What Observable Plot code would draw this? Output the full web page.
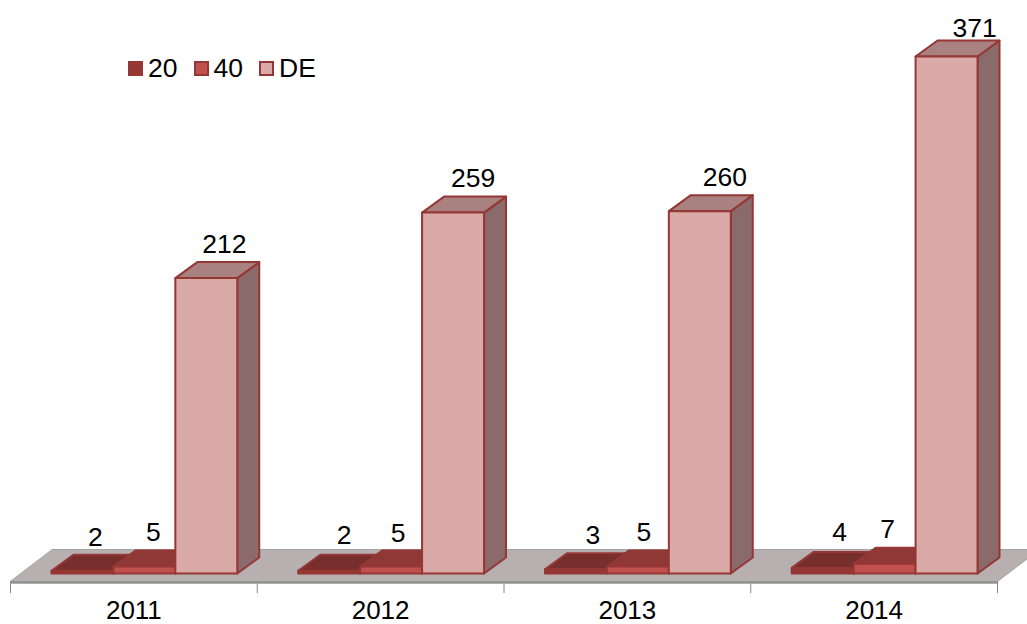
<!DOCTYPE html>
<html><head><meta charset="utf-8">
<script src="https://cdn.jsdelivr.net/npm/d3@7"></script>
<script src="https://cdn.jsdelivr.net/npm/@observablehq/plot@0.6"></script>
<style>
html,body{margin:0;padding:0;background:#fff;overflow:hidden}
#wrap{position:relative;width:1027px;height:624px;font-family:"Liberation Sans",Arial,sans-serif}
#legend{position:absolute;left:128px;top:52px;height:32px;display:flex;align-items:center;font-size:26.5px;color:#000}
#legend i{display:inline-block;box-sizing:border-box;width:15px;height:15px;margin-right:5px}
#legend span{display:inline-flex;align-items:center;margin-right:0}
svg{display:block}
</style></head>
<body><div id="wrap"><div id="chart"></div><div id="legend"></div></div>
<script>
const years = ["2011", "2012", "2013", "2014"];
const seriesNames = ["20", "40", "DE"];
const values20 = [2, 2, 3, 4];
const values40 = [5, 5, 5, 7];
const valuesDE = [212, 259, 260, 371];

const seriesValues = [values20, values40, valuesDE];
const front = ["#953735", "#c0504d", "#d9aaa8"];
const top_ = ["#762f2d", "#8f3836", "#a98180"];
const side = ["#6e2c2a", "#7f3533", "#8a6a6a"];
const edge = "#953735";

const unitX = 1 / 247, unitY = 371 / 517;      // one pixel in data units
const depthX = 22 * unitX, depthY = 16 * unitY;
const barW = 62 * unitX, barStart = 41 * unitX;

const floorD = {x: 42 * unitX, y: 32 * unitY, drop: 8 * unitY};
const floor = [
  {x: 0, y: -floorD.drop}, {x: 4, y: -floorD.drop},
  {x: 4 + floorD.x, y: floorD.y - floorD.drop}, {x: floorD.x, y: floorD.y - floorD.drop}
];

const faces = [];
years.forEach((yr, g) => {
  seriesValues.forEach((vals, s) => {
    const v = vals[g];
    const x0 = g + barStart + s * barW, x1 = x0 + barW;
    const poly = (kind, fill, pts) => pts.forEach(([x, y]) => faces.push({id: `${yr}-${s}-${kind}`, x, y, fill}));
    poly("side", side[s], [[x1, 0], [x1 + depthX, depthY], [x1 + depthX, v + depthY], [x1, v]]);
    poly("top", top_[s], [[x0, v], [x1, v], [x1 + depthX, v + depthY], [x0 + depthX, v + depthY]]);
    poly("front", front[s], [[x0, 0], [x1, 0], [x1, v], [x0, v]]);
  });
});

// small hand placement of labels, in pixels: [right of bar centre, above back edge]
const nudge = [
  [[13, 17], [9, 18], [18, 18]],
  [[15, 19], [7, 17], [20, 18]],
  [[17, 18], [6, 18], [25, 18]],
  [[17, 19], [3, 18], [28, 12]]
];
const labels = [];
years.forEach((yr, g) => seriesValues.forEach((vals, s) => {
  labels.push({
    x: g + barStart + (s + .5) * barW + nudge[g][s][0] * unitX,
    y: vals[g] + depthY + nudge[g][s][1] * unitY,
    text: String(vals[g])
  });
}));

const chart = Plot.plot({
  width: 1027, height: 624,
  marginTop: 0, marginRight: 0, marginBottom: 0, marginLeft: 0,
  x: {domain: [0, 4], range: [10, 997], axis: null},
  y: {domain: [0, 371], range: [573, 56], axis: null},
  color: {type: "identity"},
  style: {background: "#fff", fontFamily: '"Liberation Sans",Arial,sans-serif'},
  marks: [
    Plot.line(floor, {x: "x", y: "y", fill: "#b8b0b0", stroke: "#a3a3a3", strokeWidth: 1, curve: "linear-closed"}),
    Plot.ruleX(d3.range(0, 5), {y1: -floorD.drop, y2: -20 * unitY, stroke: "#868686", strokeWidth: 1}),
    Plot.ruleY([-floorD.drop], {x1: 0, x2: 4, stroke: "#939393", strokeWidth: 2.5, dy: 1}),
    Plot.line(faces, {x: "x", y: "y", z: "id", fill: "fill", stroke: edge, strokeWidth: 2, strokeLinejoin: "round", curve: "linear-closed"}),
    Plot.text(labels, {x: "x", y: "y", text: "text", fontSize: 26.5, fill: "#000", textAnchor: "middle", lineAnchor: "middle"}),
    Plot.text(years, {x: (d, i) => i + .5, y: -37.5 * unitY, text: d => d, fontSize: 26, fill: "#000", textAnchor: "middle", lineAnchor: "middle"})
  ]
});
document.getElementById("chart").append(chart);

const legend = document.getElementById("legend");
seriesNames.forEach((n, i) => {
  const el = document.createElement("span");
  el.style.width = i < 2 ? "65.5px" : "auto";
  const sw = document.createElement("i");
  sw.style.background = front[i];
  sw.style.border = "2px solid " + edge;
  el.append(sw, document.createTextNode(n));
  legend.append(el);
});
</script></body></html>
